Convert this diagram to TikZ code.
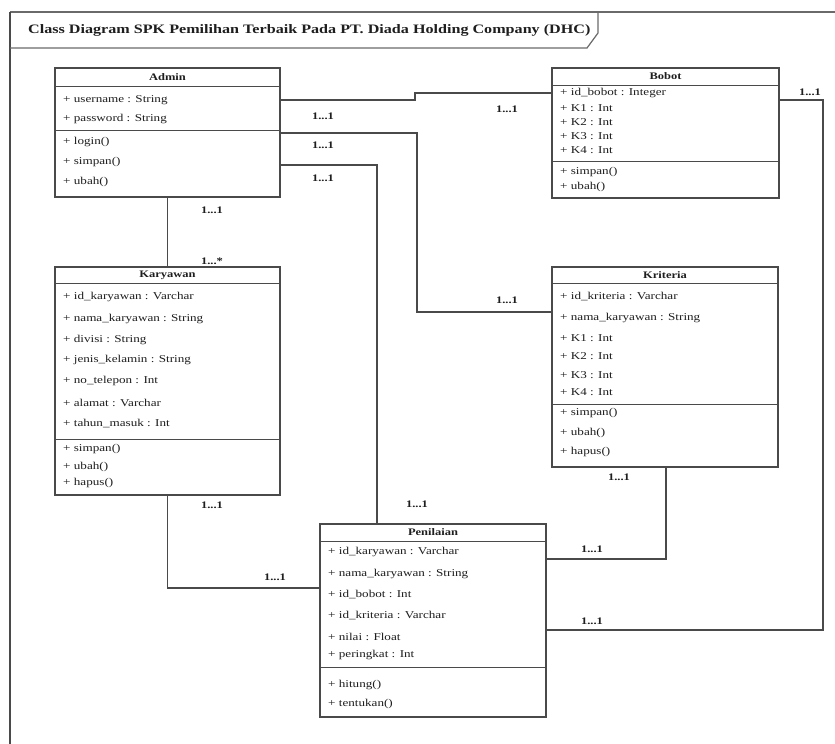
\documentclass[tikz,border=0pt]{standalone}
\usepackage{fontspec}
\setmainfont{Liberation Serif}[FakeStretch=1.25, BoldFont={Liberation Serif Bold}]
\usetikzlibrary{calc}
\definecolor{lineC}{HTML}{4A4A4A}
\definecolor{frameC}{HTML}{6A6A6A}
\definecolor{txtC}{HTML}{1E1E1E}
\tikzset{
  cls/.style={draw=lineC, line width=1.1pt, rectangle, inner sep=0pt, outer sep=0pt, anchor=north west},
  sep/.style={draw=lineC, line width=0.9pt},
  ctitle/.style={font=\fontsize{10}{11}\selectfont\bfseries, text=txtC, inner sep=0pt},
  attr/.style={font=\fontsize{10.5}{11}\selectfont, text=txtC, anchor=west, inner sep=0pt},
  mult/.style={font=\fontsize{10}{11}\selectfont\bfseries, text=txtC, inner sep=0pt},
  conn/.style={draw=lineC, line width=1.1pt},
}
\begin{document}
\begin{tikzpicture}[x=1pt,y=-1pt]
\useasboundingbox (0,0) rectangle (835,744);
\fill[white] (0,0) rectangle (835,744);
% frame
\draw[frameC, line width=1.6pt] (10,12) -- (835,12);
\draw[lineC, line width=2pt] (10,12) -- (10,744);
\draw[frameC, line width=1.2pt] (598,12) -- (598,33) -- (587,48) -- (10,48);
\node[font=\fontsize{12.9}{14}\selectfont\bfseries, text=txtC, anchor=west, inner sep=0pt] (title) at (28,30)
  {Class Diagram SPK Pemilihan Terbaik Pada PT. Diada Holding Company (DHC)};

% ---------- Admin ----------
\node[cls, minimum width=225pt, minimum height=129pt] (admin) at (55,68) {};
\draw[sep] (55,86) -- (280,86);
\draw[sep] (55,130) -- (280,130);
\node[ctitle] (adminT) at (167.5,77) {Admin};
\node[attr] (admin1) at (63,100) {+ username : String};
\node[attr] (admin2) at (63,119) {+ password : String};
\node[attr] (admin3) at (63,142) {+ login()};
\node[attr] (admin4) at (63,162) {+ simpan()};
\node[attr] (admin5) at (63,182) {+ ubah()};

% ---------- Bobot ----------
\node[cls, minimum width=227pt, minimum height=130pt] (bobot) at (552,68) {};
\draw[sep] (552,85) -- (779,85);
\draw[sep] (552,161) -- (779,161);
\node[ctitle] (bobotT) at (665.5,76.5) {Bobot};
\node[attr] (bobot1) at (560,93) {+ id\_bobot : Integer};
\node[attr] (bobot2) at (560,108) {+ K1 : Int};
\node[attr] (bobot3) at (560,122) {+ K2 : Int};
\node[attr] (bobot4) at (560,136) {+ K3 : Int};
\node[attr] (bobot5) at (560,150) {+ K4 : Int};
\node[attr] (bobot6) at (560,172) {+ simpan()};
\node[attr] (bobot7) at (560,187) {+ ubah()};

% ---------- Karyawan ----------
\node[cls, minimum width=225pt, minimum height=228pt] (karyawan) at (55,267) {};
\draw[sep] (55,283) -- (280,283);
\draw[sep] (55,439) -- (280,439);
\node[ctitle] (karT) at (167.5,275) {Karyawan};
\node[attr] (kar1) at (63,297) {+ id\_karyawan : Varchar};
\node[attr] (kar2) at (63,319) {+ nama\_karyawan : String};
\node[attr] (kar3) at (63,340) {+ divisi : String};
\node[attr] (kar4) at (63,360) {+ jenis\_kelamin : String};
\node[attr] (kar5) at (63,381) {+ no\_telepon : Int};
\node[attr] (kar6) at (63,403) {+ alamat : Varchar};
\node[attr] (kar7) at (63,424) {+ tahun\_masuk : Int};
\node[attr] (kar8) at (63,449) {+ simpan()};
\node[attr] (kar9) at (63,467) {+ ubah()};
\node[attr] (kar10) at (63,483) {+ hapus()};

% ---------- Kriteria ----------
\node[cls, minimum width=226pt, minimum height=200pt] (kriteria) at (552,267) {};
\draw[sep] (552,283) -- (778,283);
\draw[sep] (552,404) -- (778,404);
\node[ctitle] (kriT) at (665,275) {Kriteria};
\node[attr] (kri1) at (560,297) {+ id\_kriteria : Varchar};
\node[attr] (kri2) at (560,318) {+ nama\_karyawan : String};
\node[attr] (kri3) at (560,338) {+ K1 : Int};
\node[attr] (kri4) at (560,356) {+ K2 : Int};
\node[attr] (kri5) at (560,375) {+ K3 : Int};
\node[attr] (kri6) at (560,392) {+ K4 : Int};
\node[attr] (kri7) at (560,413) {+ simpan()};
\node[attr] (kri8) at (560,433) {+ ubah()};
\node[attr] (kri9) at (560,452) {+ hapus()};

% ---------- Penilaian ----------
\node[cls, minimum width=226pt, minimum height=193pt] (penilaian) at (320,524) {};
\draw[sep] (320,541) -- (546,541);
\draw[sep] (320,667) -- (546,667);
\node[ctitle] (penT) at (433,532) {Penilaian};
\node[attr] (pen1) at (328,552) {+ id\_karyawan : Varchar};
\node[attr] (pen2) at (328,574) {+ nama\_karyawan : String};
\node[attr] (pen3) at (328,595) {+ id\_bobot : Int};
\node[attr] (pen4) at (328,616) {+ id\_kriteria : Varchar};
\node[attr] (pen5) at (328,637) {+ nilai : Float};
\node[attr] (pen6) at (328,655) {+ peringkat : Int};
\node[attr] (pen7) at (328,685) {+ hitung()};
\node[attr] (pen8) at (328,704) {+ tentukan()};

% ---------- connectors ----------
\coordinate (k1a) at (415,100);
\coordinate (k1b) at (415,93);
\draw[conn] (admin.east|-k1a) -- (k1a) -- (k1b) -- (bobot.west|-k1b);
\coordinate (k2a) at (417,133);
\coordinate (k2b) at (417,312);
\draw[conn] (admin.east|-k2a) -- (k2a) -- (k2b) -- (kriteria.west|-k2b);
\coordinate (k3a) at (377,165);
\draw[conn] (admin.east|-k3a) -- (k3a) -- (k3a|-penilaian.north);
\draw[conn] (admin.south) -- (karyawan.north);
\coordinate (k5) at (167.5,588);
\draw[conn] (karyawan.south) -- (k5) -- (penilaian.west|-k5);
\coordinate (k6) at (666,559);
\draw[conn] (kriteria.south-|k6) -- (k6) -- (penilaian.east|-k6);
\coordinate (k7a) at (823,100);
\coordinate (k7b) at (823,630);
\draw[conn] (bobot.east|-k7a) -- (k7a) -- (k7b) -- (penilaian.east|-k7b);

% ---------- multiplicities ----------
\node[mult] (m1) at (323,116) {1...1};
\node[mult] (m2) at (323,145) {1...1};
\node[mult] (m3) at (323,178) {1...1};
\node[mult] (m4) at (507,109) {1...1};
\node[mult] (m5) at (810,92) {1...1};
\node[mult] (m6) at (212,210) {1...1};
\node[mult] (m7) at (212,261) {1...*};
\node[mult] (m8) at (507,300) {1...1};
\node[mult] (m9) at (417,504) {1...1};
\node[mult] (m10) at (619,477) {1...1};
\node[mult] (m11) at (212,505) {1...1};
\node[mult] (m12) at (275,577) {1...1};
\node[mult] (m13) at (592,549) {1...1};
\node[mult] (m14) at (592,621) {1...1};
\end{tikzpicture}
\end{document}
